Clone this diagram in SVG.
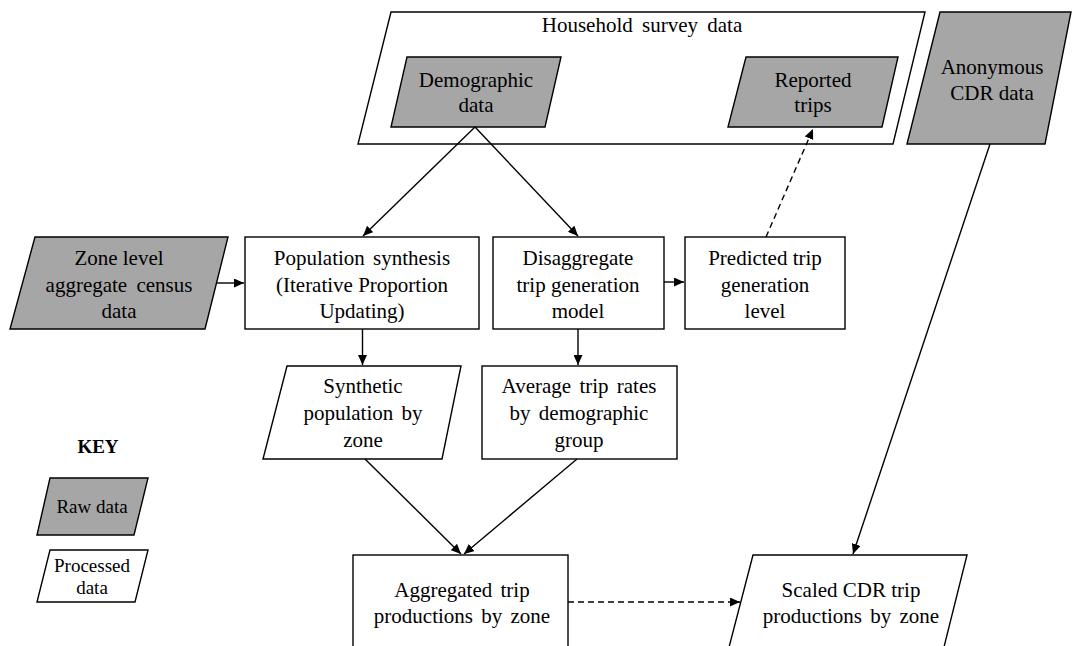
<svg xmlns="http://www.w3.org/2000/svg" width="1072" height="646" viewBox="0 0 1072 646">
  <style>
    .raw { fill: #a6a6a6; stroke: #000; stroke-width: 1.4; }
    .proc { fill: #fff; stroke: #000; stroke-width: 1.4; }
    .lbl { font-family: "Liberation Serif", "Times New Roman", serif; font-size: 21px; fill: #000; text-anchor: middle; }
    .key { font-family: "Liberation Serif", "Times New Roman", serif; font-size: 19px; fill: #000; text-anchor: middle; }
    .conn { stroke: #000; stroke-width: 1.4; fill: none; marker-end: url(#arrow); }
    .dash { stroke-dasharray: 6 4; }
  </style>
  <defs>
    <marker id="arrow" markerUnits="userSpaceOnUse" markerWidth="11" markerHeight="9" refX="10" refY="4.5" orient="auto">
      <path d="M0,0 L10,4.5 L0,9 z" fill="#000"/>
    </marker>
  </defs>

  <rect width="1072" height="646" fill="#fff"/>

  <!-- Household survey container -->
  <g id="household-survey">
    <polygon class="proc" points="391,12 925,12 893,144 358,144"/>
    <text class="lbl" x="642" y="32" word-spacing="4">Household survey data</text>
  </g>

  <g id="demographic-data">
    <polygon class="raw" points="407,57 561,57 545,127 391,127"/>
    <text class="lbl" x="476" y="87">Demographic</text>
    <text class="lbl" x="476" y="112">data</text>
  </g>

  <g id="reported-trips">
    <polygon class="raw" points="746,57 898,57 882,127 728,127"/>
    <text class="lbl" x="813" y="87">Reported</text>
    <text class="lbl" x="813" y="112">trips</text>
  </g>

  <g id="anonymous-cdr">
    <polygon class="raw" points="940,12 1071,12 1045,144 907,144"/>
    <text class="lbl" x="992" y="74">Anonymous</text>
    <text class="lbl" x="992" y="100">CDR data</text>
  </g>

  <g id="census-data">
    <polygon class="raw" points="35,237 228,237 205,329 10,329"/>
    <text class="lbl" x="119" y="265">Zone level</text>
    <text class="lbl" x="119" y="292" word-spacing="4">aggregate census</text>
    <text class="lbl" x="119" y="318">data</text>
  </g>

  <g id="population-synthesis">
    <rect class="proc" x="245" y="237" width="234" height="92"/>
    <text class="lbl" x="362" y="265" word-spacing="3">Population synthesis</text>
    <text class="lbl" x="362" y="292">(Iterative Proportion</text>
    <text class="lbl" x="362" y="318">Updating)</text>
  </g>

  <g id="trip-generation-model">
    <rect class="proc" x="493" y="237" width="171" height="92"/>
    <text class="lbl" x="578" y="265">Disaggregate</text>
    <text class="lbl" x="578" y="292">trip generation</text>
    <text class="lbl" x="578" y="318">model</text>
  </g>

  <g id="predicted-trip-level">
    <rect class="proc" x="685" y="237" width="160" height="92"/>
    <text class="lbl" x="765" y="265">Predicted trip</text>
    <text class="lbl" x="765" y="292">generation</text>
    <text class="lbl" x="765" y="318">level</text>
  </g>

  <g id="synthetic-population">
    <polygon class="proc" points="287,366 461,366 442,459 263,459"/>
    <text class="lbl" x="363" y="393">Synthetic</text>
    <text class="lbl" x="363" y="420" word-spacing="3">population by</text>
    <text class="lbl" x="363" y="447">zone</text>
  </g>

  <g id="average-trip-rates">
    <rect class="proc" x="482" y="366" width="195" height="93"/>
    <text class="lbl" x="579" y="393" word-spacing="3">Average trip rates</text>
    <text class="lbl" x="579" y="420" word-spacing="3">by demographic</text>
    <text class="lbl" x="579" y="447">group</text>
  </g>

  <g id="aggregated-productions">
    <rect class="proc" x="353" y="555" width="215" height="100"/>
    <text class="lbl" x="462" y="597" word-spacing="3">Aggregated trip</text>
    <text class="lbl" x="462" y="623" word-spacing="3">productions by zone</text>
  </g>

  <g id="scaled-cdr-productions">
    <polygon class="proc" points="753,555 967,555 942,655 727,655"/>
    <text class="lbl" x="851" y="597">Scaled CDR trip</text>
    <text class="lbl" x="851" y="623" word-spacing="3">productions by zone</text>
  </g>

  <!-- Legend -->
  <g id="key">
    <text class="key" x="98" y="453" font-weight="bold">KEY</text>
    <polygon class="raw" points="50,478 148,478 134,535 37,535"/>
    <text class="key" x="92" y="513">Raw data</text>
    <polygon class="proc" points="50,550 148,550 135,602 37,602"/>
    <text class="key" x="92" y="572">Processed</text>
    <text class="key" x="92" y="594">data</text>
  </g>

  <!-- Connectors -->
  <g id="connectors">
    <line class="conn" x1="475" y1="127" x2="363" y2="236"/>
    <line class="conn" x1="475" y1="127" x2="578" y2="236"/>
    <line class="conn" x1="216" y1="283" x2="244" y2="283"/>
    <line class="conn" x1="664" y1="282" x2="684" y2="282"/>
    <line class="conn dash" x1="766" y1="237" x2="813" y2="129"/>
    <line class="conn" x1="362.5" y1="329" x2="362.5" y2="365"/>
    <line class="conn" x1="578" y1="329" x2="578" y2="365"/>
    <line class="conn" x1="365" y1="459" x2="461" y2="554"/>
    <line class="conn" x1="577" y1="459" x2="464" y2="554"/>
    <line class="conn dash" x1="568" y1="602" x2="740" y2="602"/>
    <line class="conn" x1="990" y1="144" x2="853" y2="554"/>
  </g>
</svg>
